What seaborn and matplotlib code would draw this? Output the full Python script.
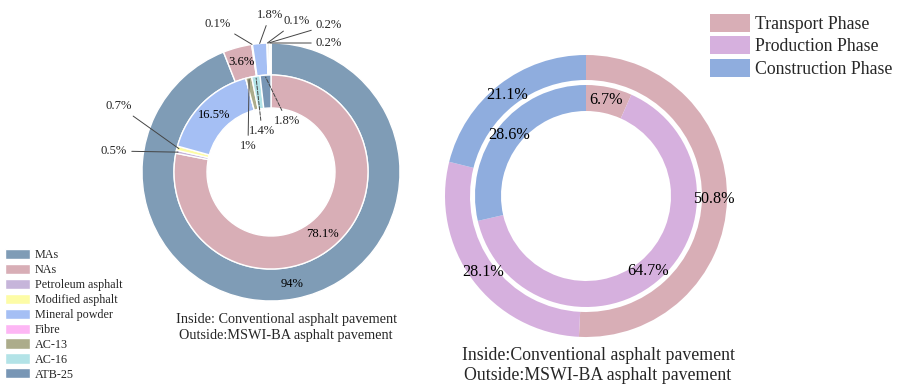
"""Two nested donut charts: material and life-cycle phase shares for
conventional vs. MSWI-BA asphalt pavement."""

import matplotlib

matplotlib.use("Agg")

import matplotlib.pyplot as plt
import numpy as np
import seaborn as sns

W, H = 899, 388  # output size in pixels (dpi 100)

# Left chart -- material shares (%), legend order
MATERIALS = [
    "MAs",
    "NAs",
    "Petroleum asphalt",
    "Modified asphalt",
    "Mineral powder",
    "Fibre",
    "AC-13",
    "AC-16",
    "ATB-25",
]
MAT_MSWI_BA = [94.0, 3.6, 0.1, 0.0, 1.8, 0.1, 0.2, 0.2, 0.0]
MAT_CONVENTIONAL = [0.0, 78.1, 0.5, 0.7, 16.5, 0.0, 1.0, 1.4, 1.8]
MAT_COLORS = [
    "#7f9cb6",
    "#d8aeb6",
    "#c6b5da",
    "#fdfca6",
    "#a5bff4",
    "#fdb6f4",
    "#acac8b",
    "#b3e3e7",
    "#7896b5",
]

# Right chart -- life-cycle phase shares (%)
PHASES = ["Transport Phase", "Production Phase", "Construction Phase"]
PHASE_MSWI_BA = [50.8, 28.1, 21.1]
PHASE_CONVENTIONAL = [6.7, 64.7, 28.6]
PHASE_COLORS = ["#d8aeb6", "#d6b0de", "#8fadde"]

CAPTION = ["Inside: Conventional asphalt pavement", "Outside:MSWI-BA asphalt pavement"]
CAPTION_R = ["Inside:Conventional asphalt pavement", "Outside:MSWI-BA asphalt pavement"]

# small slices get a leader line: (ring, slice index, label position in px, style)
LEFT_CALLOUTS = [
    ("outer", 2, (218, 24), "-"),
    ("outer", 4, (270, 15), "-"),
    ("outer", 5, (297, 21), "-"),
    ("outer", 6, (329, 25), "-"),
    ("outer", 7, (329, 43), "-"),
    ("inner", 3, (119, 106), "-"),
    ("inner", 2, (114, 151), "-"),
    ("inner", 6, (248, 146), "-"),
    ("inner", 7, (262, 131), "--"),
    ("inner", 8, (287, 121), "--"),
]


def px(x, y):
    """Image pixel position (y down) -> data coords (y up)."""
    return (x, H - y)


def pct_label(threshold):
    def fmt(p):
        return f"{round(p, 1):g}%" if p >= threshold else ""

    return fmt


def donut(ax, values, colors, center, radius, width, pctdistance, threshold,
          fontsize, edge):
    wedges, _, _ = ax.pie(
        values,
        colors=colors,
        radius=radius,
        center=center,
        startangle=90,
        counterclock=False,
        autopct=pct_label(threshold),
        pctdistance=pctdistance,
        textprops={"fontsize": fontsize, "color": "black"},
        wedgeprops={"width": width, "edgecolor": "white", "linewidth": edge},
    )
    return wedges


def left_chart(ax):
    center = px(271, 172)
    outer = donut(ax, MAT_MSWI_BA, MAT_COLORS, center, 129, 32, 0.88, 3.0, 9.1, 1.0)
    inner = donut(ax, MAT_CONVENTIONAL, MAT_COLORS, center, 97, 33, 0.83, 3.0, 9.1, 1.0)

    rings = {"outer": (outer, 129), "inner": (inner, 95)}
    for ring, idx, pos, style in LEFT_CALLOUTS:
        wedges, r = rings[ring]
        w = wedges[idx]
        ang = np.deg2rad((w.theta1 + w.theta2) / 2)
        target = (center[0] + r * np.cos(ang), center[1] + r * np.sin(ang))
        values = MAT_MSWI_BA if ring == "outer" else MAT_CONVENTIONAL
        ax.annotate(
            f"{values[idx]:g}%",
            xy=target,
            xytext=px(*pos),
            ha="center",
            va="center",
            fontsize=9.1,
            arrowprops=dict(arrowstyle="-", color="#444444", lw=0.7,
                            linestyle=style, shrinkA=1, shrinkB=0),
        )

    ax.text(*px(286, 319), CAPTION[0], ha="center", va="center", fontsize=10.3)
    ax.text(*px(286, 335), CAPTION[1], ha="center", va="center", fontsize=10.3)
    return outer


def right_chart(ax):
    center = px(586, 196)
    outer = donut(ax, PHASE_MSWI_BA, PHASE_COLORS, center, 141, 25, 0.91, 0.0, 11.6, 0)
    donut(ax, PHASE_CONVENTIONAL, PHASE_COLORS, center, 111, 26, 0.88, 0.0, 11.6, 0)
    ax.text(*px(598, 355), CAPTION_R[0], ha="center", va="center", fontsize=12.8)
    ax.text(*px(598, 376), CAPTION_R[1], ha="center", va="center", fontsize=12.8)
    return outer


def main():
    sns.set_theme(style="white")
    plt.rcParams["font.family"] = ["Liberation Serif", "DejaVu Serif"]

    fig = plt.figure(figsize=(W / 100, H / 100), dpi=100)
    ax = fig.add_axes([0, 0, 1, 1])

    mat_wedges = left_chart(ax)
    phase_wedges = right_chart(ax)

    ax.set_xlim(0, W)
    ax.set_ylim(0, H)
    ax.set_aspect("auto")
    ax.axis("off")

    fig.legend(
        mat_wedges,
        MATERIALS,
        loc="upper left",
        bbox_to_anchor=(5 / W, 1 - 249 / H),
        frameon=False,
        fontsize=8.7,
        handlelength=2.07,
        handleheight=0.92,
        handletextpad=0.4,
        labelspacing=0.22,
        borderpad=0,
        borderaxespad=0,
    )
    fig.legend(
        phase_wedges,
        PHASES,
        loc="upper left",
        bbox_to_anchor=(710 / W, 1 - 14 / H),
        frameon=False,
        fontsize=12.8,
        handlelength=2.25,
        handleheight=1.18,
        handletextpad=0.28,
        labelspacing=0.19,
        borderpad=0,
        borderaxespad=0,
    )

    fig.savefig("out.png", dpi=100, facecolor="white")


if __name__ == "__main__":
    main()
